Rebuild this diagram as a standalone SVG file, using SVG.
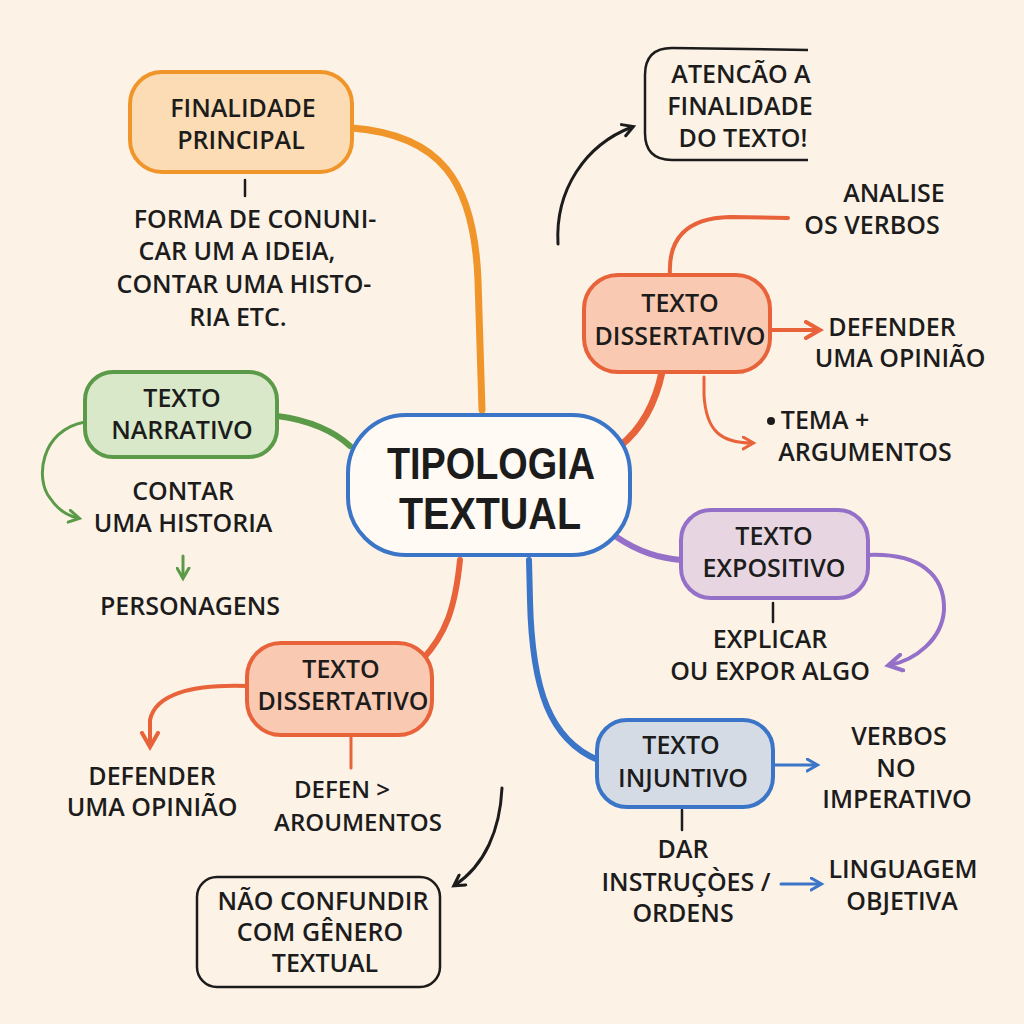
<svg xmlns="http://www.w3.org/2000/svg" width="1024" height="1024" viewBox="0 0 1024 1024">
<defs>
<style>
.t{font-family:"Open Sans","Noto Sans","Liberation Sans",sans-serif;font-weight:600;font-size:25px;fill:#1c1c1c;text-anchor:middle}
.big{font-family:"Liberation Sans","Open Sans",sans-serif;font-size:44px;font-weight:700}
.c{fill:none;stroke-linecap:round;stroke-linejoin:round}
</style>
<marker id="aO" viewBox="0 0 10 10" refX="7" refY="5" markerWidth="5" markerHeight="5" orient="auto"><path d="M1,1 L8,5 L1,9" fill="none" stroke="#e8623a" stroke-width="2" stroke-linecap="round"/></marker>
<marker id="aG" viewBox="0 0 10 10" refX="7" refY="5" markerWidth="5" markerHeight="5" orient="auto"><path d="M1,1 L8,5 L1,9" fill="none" stroke="#5a9a48" stroke-width="2" stroke-linecap="round"/></marker>
<marker id="aP" viewBox="0 0 10 10" refX="7" refY="5" markerWidth="5" markerHeight="5" orient="auto"><path d="M1,1 L8,5 L1,9" fill="none" stroke="#9470c8" stroke-width="2" stroke-linecap="round"/></marker>
<marker id="aB" viewBox="0 0 10 10" refX="7" refY="5" markerWidth="5" markerHeight="5" orient="auto"><path d="M1,1 L8,5 L1,9" fill="none" stroke="#3a75c8" stroke-width="2" stroke-linecap="round"/></marker>
<marker id="aK" viewBox="0 0 10 10" refX="7" refY="5" markerWidth="5" markerHeight="5" orient="auto"><path d="M1,1 L8,5 L1,9" fill="none" stroke="#1c1c1c" stroke-width="2" stroke-linecap="round"/></marker>
</defs>
<rect width="1024" height="1024" fill="#fdf2e6"/>
<g id="connectors">
<path class="c" d="M352,128 C440,135 474,180 478,280 L482,410" stroke="#f0952a" stroke-width="7"/>
<path class="c" d="M277,416 C310,420 335,432 350,446" stroke="#5a9a48" stroke-width="6"/>
<path class="c" d="M85,422 C40,430 35,480 50,498 C58,510 68,516 78,518" stroke="#5a9a48" stroke-width="3" marker-end="url(#aG)"/>
<path class="c" d="M183,556 L183,577" stroke="#5a9a48" stroke-width="3" marker-end="url(#aG)"/>
<path class="c" d="M558,244 C555,190 585,145 632,127" stroke="#1c1c1c" stroke-width="3" marker-end="url(#aK)"/>
<path class="c" d="M620,446 C640,430 655,405 662,372" stroke="#e8623a" stroke-width="7"/>
<path class="c" d="M670,275 C668,240 685,218 730,217 L788,218" stroke="#e8623a" stroke-width="4"/>
<path class="c" d="M771,330 L818,330" stroke="#e8623a" stroke-width="4" marker-end="url(#aO)"/>
<path class="c" d="M704,377 L704,395 C706,430 720,443 752,443" stroke="#e8623a" stroke-width="3" marker-end="url(#aO)"/>
<path class="c" d="M615,536 C640,553 660,558 681,560" stroke="#9470c8" stroke-width="6"/>
<path class="c" d="M868,555 C920,553 945,575 944,610 C942,640 915,660 890,665" stroke="#9470c8" stroke-width="4" marker-end="url(#aP)"/>
<path class="c" d="M773,603 L773,622" stroke="#1c1c1c" stroke-width="2.5"/>
<path class="c" d="M529,560 L530,600 C532,690 550,740 598,760" stroke="#3a75c8" stroke-width="6"/>
<path class="c" d="M773,765 L816,765" stroke="#3a75c8" stroke-width="3" marker-end="url(#aB)"/>
<path class="c" d="M682,810 L682,830" stroke="#1c1c1c" stroke-width="2.5"/>
<path class="c" d="M781,884 L820,884" stroke="#3a75c8" stroke-width="3" marker-end="url(#aB)"/>
<path class="c" d="M460,560 C455,610 445,635 422,660" stroke="#e8623a" stroke-width="6"/>
<path class="c" d="M247,686 C190,684 155,695 150,720 L150,745" stroke="#e8623a" stroke-width="4" marker-end="url(#aO)"/>
<path class="c" d="M351,737 L351,768" stroke="#e8623a" stroke-width="3"/>
<path class="c" d="M502,788 C500,830 485,865 455,885" stroke="#1c1c1c" stroke-width="3" marker-end="url(#aK)"/>
<path class="c" d="M245,180 L245,196" stroke="#1c1c1c" stroke-width="2.5"/>
</g>
<g id="finalidade">
<rect x="130" y="72" width="222" height="100" rx="32" fill="#fbdcb4" stroke="#f0952a" stroke-width="4"/>
<text class="t" x="243" y="117">FINALIDADE</text>
<text class="t" x="241" y="149">PRINCIPAL</text>
</g>
<g id="finalidade-desc">
<text class="t" x="255" y="228">FORMA DE CONUNI-</text>
<text class="t" x="237" y="260">CAR UM A IDEIA,</text>
<text class="t" x="244" y="293">CONTAR UMA HISTO-</text>
<text class="t" x="238" y="326">RIA ETC.</text>
</g>
<g id="central">
<rect x="348" y="415" width="282" height="140" rx="58" fill="#fffaf3" stroke="#3a75c8" stroke-width="4"/>
<text class="t big" x="491" y="479" textLength="208" lengthAdjust="spacingAndGlyphs">TIPOLOGIA</text>
<text class="t big" x="490" y="529" textLength="182" lengthAdjust="spacingAndGlyphs">TEXTUAL</text>
</g>
<g id="narrativo">
<rect x="85" y="372" width="192" height="85" rx="28" fill="#d8e8c8" stroke="#5a9a48" stroke-width="4"/>
<text class="t" x="182" y="407">TEXTO</text>
<text class="t" x="182" y="439">NARRATIVO</text>
</g>
<g id="contar">
<text class="t" x="183" y="500">CONTAR</text>
<text class="t" x="183" y="532">UMA HISTORIA</text>
</g>
<g id="personagens"><text class="t" x="190" y="615">PERSONAGENS</text></g>
<g id="atencao">
<path d="M808,50 L672,48 Q645,48 645,75 L645,133 Q645,160 672,160 L808,160" fill="none" stroke="#1c1c1c" stroke-width="2.5"/>
<text class="t" x="741" y="83">ATENCÃO  A</text>
<text class="t" x="740" y="115">FINALIDADE</text>
<text class="t" x="743" y="147">DO TEXTO!</text>
</g>
<g id="dissertativo-r">
<rect x="584" y="275" width="186" height="97" rx="34" fill="#f9c9b1" stroke="#e8623a" stroke-width="4"/>
<text class="t" x="680" y="312">TEXTO</text>
<text class="t" x="680" y="345">DISSERTATIVO</text>
</g>
<g id="analise">
<text class="t" x="894" y="202">ANALISE</text>
<text class="t" x="872" y="234">OS VERBOS</text>
</g>
<g id="defender-r">
<text class="t" x="892" y="336">DEFENDER</text>
<text class="t" x="900" y="367">UMA OPINIÃO</text>
</g>
<g id="tema">
<text class="t" x="825" y="429">TEMA +</text>
<circle cx="771" cy="421" r="4" fill="#1c1c1c"/>
<text class="t" x="865" y="461">ARGUMENTOS</text>
</g>
<g id="expositivo">
<rect x="681" y="510" width="187" height="88" rx="30" fill="#e7d6e1" stroke="#9470c8" stroke-width="4"/>
<text class="t" x="774" y="545">TEXTO</text>
<text class="t" x="774" y="577">EXPOSITIVO</text>
</g>
<g id="explicar">
<text class="t" x="770" y="648">EXPLICAR</text>
<text class="t" x="770" y="680">OU EXPOR ALGO</text>
</g>
<g id="injuntivo">
<rect x="597" y="720" width="176" height="87" rx="30" fill="#d5dbe5" stroke="#3a75c8" stroke-width="4"/>
<text class="t" x="681" y="754">TEXTO</text>
<text class="t" x="683" y="787">INJUNTIVO</text>
</g>
<g id="verbos">
<text class="t" x="899" y="745">VERBOS</text>
<text class="t" x="896" y="777">NO</text>
<text class="t" x="897" y="808">IMPERATIVO</text>
</g>
<g id="dar">
<text class="t" x="683" y="858">DAR</text>
<text class="t" x="686" y="891">INSTRUÇÒES /</text>
<text class="t" x="683" y="922">ORDENS</text>
</g>
<g id="linguagem">
<text class="t" x="903" y="878">LINGUAGEM</text>
<text class="t" x="902" y="910">OBJETIVA</text>
</g>
<g id="dissertativo-l">
<rect x="247" y="643" width="185" height="92" rx="34" fill="#f9c9b1" stroke="#e8623a" stroke-width="4"/>
<text class="t" x="341" y="678">TEXTO</text>
<text class="t" x="343" y="710">DISSERTATIVO</text>
</g>
<g id="defender-l">
<text class="t" x="152" y="785">DEFENDER</text>
<text class="t" x="152" y="816">UMA OPINIÃO</text>
</g>
<g id="defen">
<text class="t" x="342" y="798" style="font-size:24px">DEFEN  &gt;</text>
<text class="t" x="358" y="831" style="font-size:24px">AROUMENTOS</text>
</g>
<g id="nao-confundir">
<rect x="197" y="877" width="243" height="110" rx="20" fill="none" stroke="#1c1c1c" stroke-width="2.5"/>
<text class="t" x="323" y="910">NÃO CONFUNDIR</text>
<text class="t" x="320" y="941">COM GÊNERO</text>
<text class="t" x="325" y="972">TEXTUAL</text>
</g>
</svg>
